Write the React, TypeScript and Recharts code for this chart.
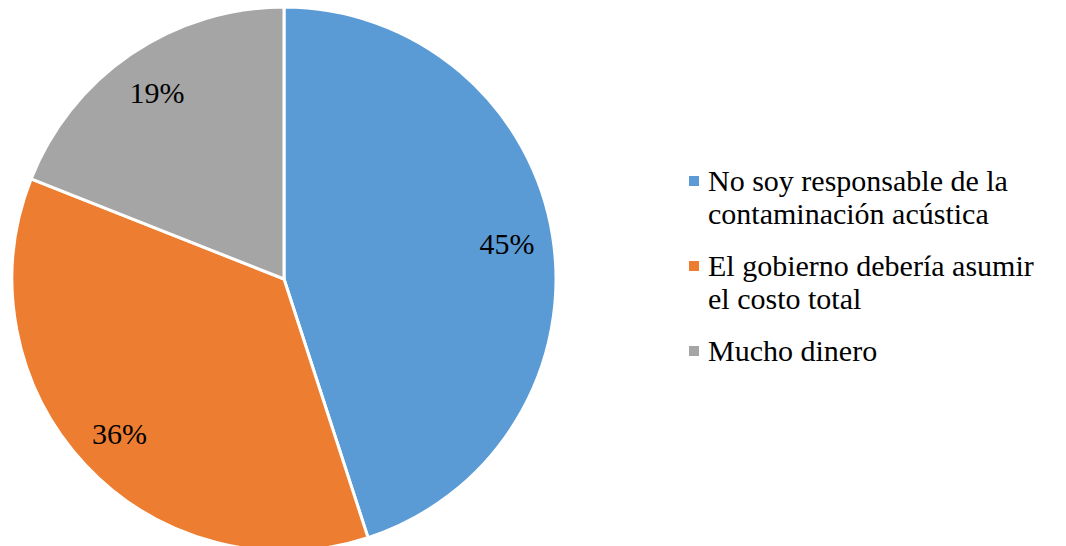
import React from 'react';
import { PieChart, Pie, Cell, Legend } from 'recharts';

// categories and shares (%)
const categories = [
    'No soy responsable de la contaminación acústica',
    'El gobierno debería asumir el costo total',
    'Mucho dinero',
];
const shares = [45, 36, 19];

const COLORS = ['#5B9BD5', '#ED7D31', '#A5A5A5'];

const FONT = 'Liberation Serif, Tinos, DejaVu Serif, Times New Roman, Times, serif';
const RADIAN = Math.PI / 180;

const data = categories.map((name, i) => ({ name, value: shares[i] }));

// percentage label inside each slice
const renderLabel = (props: any) => {
    const { cx, cy, midAngle, outerRadius, percent } = props;
    const r = outerRadius * 0.83;
    const x = cx + r * Math.cos(midAngle * RADIAN);
    const y = cy - r * Math.sin(midAngle * RADIAN);
    return (
        <text
            x={x}
            y={y}
            textAnchor="middle"
            dominantBaseline="central"
            fontSize={30}
            style={{ fontFamily: FONT }}
            fill="#000"
        >
            {`${Math.round(percent * 100)}%`}
        </text>
    );
};

const renderLegend = () => (
    <div style={{ fontFamily: FONT, fontSize: 30, lineHeight: '33px', color: '#000' }}>
        {categories.map((name, i) => (
            <div key={name} style={{ display: 'flex', alignItems: 'flex-start', marginBottom: 19 }}>
                <span
                    style={{
                        width: 10,
                        height: 10,
                        background: COLORS[i],
                        marginTop: 12,
                        marginRight: 9,
                        flex: 'none',
                    }}
                />
                <span style={{ width: 335 }}>{name}</span>
            </div>
        ))}
    </div>
);

export default function App() {
    return (
        <div style={{ width: 1058, height: 538, fontFamily: FONT }}>
            <PieChart width={1058} height={538} margin={{ top: 0, right: 0, bottom: 0, left: 0 }}>
                <Pie
                    data={data}
                    dataKey="value"
                    nameKey="name"
                    cx={276}
                    cy={271}
                    outerRadius={272}
                    startAngle={90}
                    endAngle={-270}
                    stroke="#fff"
                    strokeWidth={3}
                    label={renderLabel}
                    labelLine={false}
                    isAnimationActive={false}
                >
                    {data.map((entry, index) => (
                        <Cell key={`cell-${index}`} fill={COLORS[index]} />
                    ))}
                </Pie>
                <Legend
                    layout="vertical"
                    content={renderLegend}
                    wrapperStyle={{ position: 'absolute', left: 681, top: 156, width: 380 }}
                />
            </PieChart>
        </div>
    );
}
